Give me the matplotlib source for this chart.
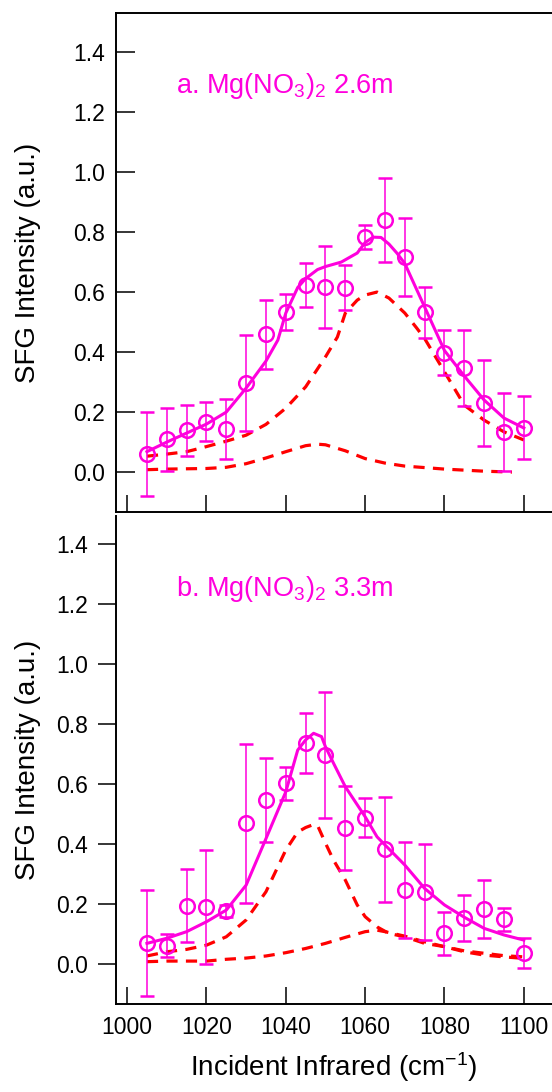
import matplotlib
import matplotlib.pyplot as plt

plt.switch_backend("Agg")

plt.rcParams["font.family"] = ["Liberation Sans", "DejaVu Sans"]
plt.rcParams["mathtext.fontset"] = "custom"
plt.rcParams["mathtext.rm"] = "Liberation Sans"
plt.rcParams["mathtext.it"] = "Liberation Sans:italic"

MAGENTA = "#ff00dd"
RED = "#ff0000"

# measured points (both panels share the same frequencies)
freq = [1005, 1010, 1015, 1020, 1025, 1030, 1035, 1040, 1045, 1050,
        1055, 1060, 1065, 1070, 1075, 1080, 1085, 1090, 1095, 1100]

# panel a: Mg(NO3)2 2.6m
a_int = [0.059, 0.11, 0.14, 0.168, 0.143, 0.296, 0.46, 0.534, 0.623, 0.618,
         0.615, 0.783, 0.84, 0.718, 0.533, 0.398, 0.346, 0.231, 0.132, 0.148]
a_err = [0.14, 0.105, 0.085, 0.065, 0.1, 0.16, 0.115, 0.06, 0.073, 0.137,
         0.075, 0.04, 0.14, 0.13, 0.085, 0.075, 0.126, 0.143, 0.13, 0.104]

a_fit_x = [1005, 1010, 1015, 1020, 1025, 1030, 1035, 1038, 1040, 1043, 1045, 1048,
           1050, 1054, 1058, 1060, 1062, 1064, 1066, 1068, 1070, 1075, 1080,
           1085, 1090, 1095, 1100]
a_fit_y = [0.068, 0.10, 0.13, 0.16, 0.20, 0.28, 0.37, 0.44, 0.53, 0.615, 0.645, 0.675,
           0.685, 0.70, 0.73, 0.765, 0.783, 0.782, 0.76, 0.73, 0.695, 0.55, 0.405,
           0.32, 0.24, 0.18, 0.147]

a_peak1_x = [1005, 1010, 1015, 1020, 1025, 1030, 1035, 1040, 1045, 1050, 1053,
             1055, 1058, 1060, 1063, 1066, 1070, 1073, 1075, 1080, 1085, 1090,
             1095, 1100]
a_peak1_y = [0.053, 0.06, 0.068, 0.085, 0.103, 0.123, 0.159, 0.213, 0.284, 0.384,
             0.45, 0.53, 0.573, 0.59, 0.60, 0.58, 0.53, 0.48, 0.445, 0.334, 0.223,
             0.173, 0.134, 0.107]

a_peak2_x = [1005, 1010, 1020, 1025, 1030, 1035, 1040, 1045, 1048, 1050, 1055,
             1060, 1065, 1070, 1080, 1090, 1097]
a_peak2_y = [0.008, 0.01, 0.012, 0.016, 0.028, 0.047, 0.068, 0.088, 0.093, 0.091,
             0.071, 0.045, 0.03, 0.02, 0.01, 0.003, 0.0]

# panel b: Mg(NO3)2 3.3m
b_int = [0.071, 0.061, 0.194, 0.191, 0.177, 0.469, 0.547, 0.602, 0.736, 0.697,
         0.452, 0.488, 0.383, 0.247, 0.239, 0.102, 0.154, 0.183, 0.149, 0.036]
b_err = [0.176, 0.038, 0.122, 0.19, 0.02, 0.265, 0.14, 0.055, 0.1, 0.21,
         0.14, 0.065, 0.175, 0.16, 0.16, 0.073, 0.077, 0.097, 0.038, 0.05]

b_fit_x = [1005, 1010, 1015, 1020, 1025, 1030, 1035, 1040, 1043, 1045, 1047,
           1049, 1050, 1052, 1055, 1060, 1063, 1065, 1070, 1075, 1080, 1085,
           1090, 1095, 1100]
b_fit_y = [0.069, 0.086, 0.108, 0.141, 0.18, 0.263, 0.418, 0.574, 0.713, 0.747,
           0.769, 0.758, 0.724, 0.67, 0.591, 0.491, 0.424, 0.397, 0.33, 0.252,
           0.197, 0.156, 0.119, 0.097, 0.08]

b_peak1_x = [1005, 1010, 1015, 1020, 1025, 1030, 1035, 1040, 1043, 1045, 1047,
             1048, 1050, 1052, 1055, 1058, 1060, 1063, 1066, 1070, 1075, 1080,
             1085, 1090, 1095, 1100]
b_peak1_y = [0.027, 0.041, 0.049, 0.063, 0.091, 0.147, 0.241, 0.38, 0.44, 0.455,
             0.465, 0.462, 0.403, 0.347, 0.28, 0.197, 0.158, 0.124, 0.102, 0.091,
             0.069, 0.058, 0.041, 0.03, 0.024, 0.019]

b_peak2_x = [1005, 1010, 1020, 1025, 1030, 1035, 1040, 1045, 1050, 1055, 1060,
             1063, 1065, 1070, 1075, 1080, 1085, 1090, 1095, 1100]
b_peak2_y = [0.008, 0.01, 0.01, 0.016, 0.02, 0.027, 0.038, 0.052, 0.069, 0.089,
             0.108, 0.113, 0.108, 0.093, 0.074, 0.058, 0.044, 0.036, 0.028, 0.024]

x_ticks = [1000, 1020, 1040, 1060, 1080, 1100]
y_ticks = [0.0, 0.2, 0.4, 0.6, 0.8, 1.0, 1.2, 1.4]


def draw_panel(ax, inten, err, fit_x, fit_y, p1_x, p1_y, p2_x, p2_y, label, label_y):
    ax.plot(p1_x, p1_y, color=RED, lw=2.3, dashes=(3.5, 2.6))
    ax.plot(p2_x, p2_y, color=RED, lw=2.3, dashes=(3.5, 2.6))
    ax.plot(fit_x, fit_y, color=MAGENTA, lw=2.2)
    ax.errorbar(freq, inten, yerr=err, fmt="o", color=MAGENTA, mfc="none",
                mec=MAGENTA, ms=10.5, mew=1.8, elinewidth=1.1, capsize=5, capthick=1.1)

    ax.text(1012.4, label_y, label, color=MAGENTA, fontsize=19.5, va="baseline")

    ax.set_xlim(997.2, 1107.1)
    ax.set_xticks(x_ticks)
    ax.set_yticks(y_ticks)
    ax.set_yticklabels([f"{v:.1f}" for v in y_ticks])
    ax.set_ylabel("SFG Intensity (a.u.)", fontsize=20)
    ax.yaxis.set_label_coords(-0.172, 0.5)

    ax.spines["right"].set_visible(False)
    for spine in ax.spines.values():
        spine.set_linewidth(1.4)
    ax.tick_params(axis="x", direction="in", length=12.5, width=1.1, labelsize=16.5, pad=9)


fig = plt.figure(figsize=(5.52, 10.92), dpi=100)
left = 116 / 552
ax1 = fig.add_axes([left, 1 - 512 / 1092, 1 - left, (512 - 13) / 1092])
ax2 = fig.add_axes([left, 1 - 1004 / 1092, 1 - left, (1004 - 516) / 1092])

draw_panel(ax1, a_int, a_err, a_fit_x, a_fit_y, a_peak1_x, a_peak1_y,
           a_peak2_x, a_peak2_y, r"a. Mg(NO$\mathregular{_3}$)$\mathregular{_2}$ 2.6m", 1.263)
ax1.set_ylim(-0.133, 1.53)
ax1.tick_params(axis="y", direction="in", length=13.5, width=1.1, labelsize=16.5, pad=8)
ax1.tick_params(axis="x", labelbottom=False)

draw_panel(ax2, b_int, b_err, b_fit_x, b_fit_y, b_peak1_x, b_peak1_y,
           b_peak2_x, b_peak2_y, r"b. Mg(NO$\mathregular{_3}$)$\mathregular{_2}$ 3.3m", 1.227)
ax2.set_ylim(-0.133, 1.493)
ax2.spines["top"].set_visible(False)
ax2.tick_params(axis="y", direction="out", length=13, width=1.1, labelsize=16.5, pad=7)
ax2.set_xlabel("Incident Infrared (cm$^{\\mathregular{-1}}$)", fontsize=20, labelpad=8)

fig.savefig("out.png", dpi=100)
